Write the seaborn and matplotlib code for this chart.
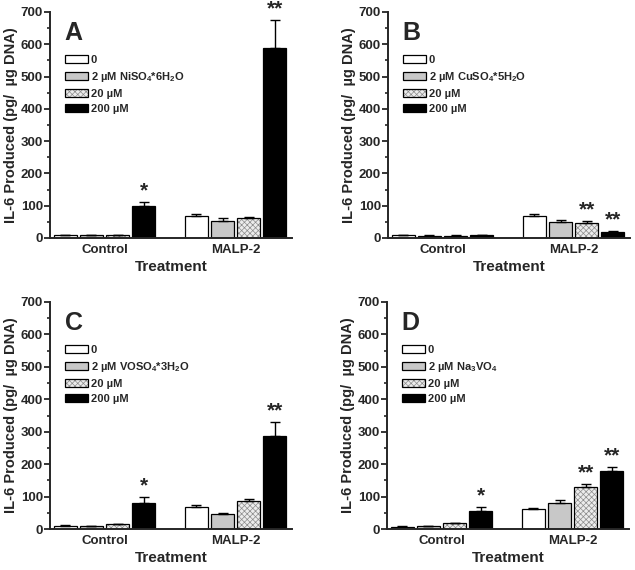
import numpy as np
import pandas as pd
import matplotlib
matplotlib.use("Agg")
import matplotlib.pyplot as plt
import seaborn as sns
from matplotlib.patches import Patch
from matplotlib.ticker import MultipleLocator

sns.set_theme(style="ticks")
plt.rcParams['font.family'] = ['Liberation Sans', 'DejaVu Sans']
plt.rcParams['font.weight'] = 'bold'
plt.rcParams['mathtext.fontset'] = 'custom'
plt.rcParams['mathtext.rm'] = 'Liberation Sans:bold'
plt.rcParams['mathtext.bf'] = 'Liberation Sans:bold'
plt.rcParams['mathtext.default'] = 'bf'
plt.rcParams['hatch.linewidth'] = 0.5

treatments = ["Control", "MALP-2"]
doses = ["0", "2", "20", "200"]
panel_letters = ["A", "B", "C", "D"]
compounds = [r"2 µM NiSO$_4$*6H$_2$O", r"2 µM CuSO$_4$*5H$_2$O",
             r"2 µM VOSO$_4$*3H$_2$O", r"2 µM Na$_3$VO$_4$"]

# values: [Control x4 doses, MALP-2 x4 doses]
vals_A = [8, 8, 8, 100, 68, 53, 63, 588]
err_A = [1, 1, 2, 12, 7, 8, 3, 87]
sig_A = ["", "", "", "*", "", "", "", "**"]

vals_B = [9, 7, 7, 8, 67, 50, 48, 19]
err_B = [1, 1, 1, 1, 8, 5, 4, 2]
sig_B = ["", "", "", "", "", "", "**", "**"]

vals_C = [10, 9, 14, 80, 68, 45, 87, 286]
err_C = [1, 1, 1, 18, 7, 5, 6, 45]
sig_C = ["", "", "", "*", "", "", "", "**"]

vals_D = [7, 9, 17, 57, 62, 80, 128, 180]
err_D = [1, 1, 2, 12, 2, 8, 10, 10]
sig_D = ["", "", "", "*", "", "", "**", "**"]

panels = [(vals_A, err_A, sig_A), (vals_B, err_B, sig_B),
          (vals_C, err_C, sig_C), (vals_D, err_D, sig_D)]

facecolors = ["white", "#c8c8c8", "#ececec", "black"]
hatches = [None, None, "xxxxxx", None]
hatch_gray = (0.55, 0.55, 0.55, 1.0)

fig = plt.figure(figsize=(6.35, 5.7), dpi=100)
W, H = 635, 570
boxes = [(50, 12, 292, 238), (388, 12, 630, 238),
         (50, 302, 292, 529), (387, 302, 629, 529)]

for i, (vals, errs, sigs) in enumerate(panels):
    x0, y0, x1, y1 = boxes[i]
    ax = fig.add_axes([x0 / W, 1 - y1 / H, (x1 - x0) / W, (y1 - y0) / H])
    df = pd.DataFrame({
        "Treatment": [t for t in treatments for _ in doses],
        "Dose": doses * 2,
        "IL6": vals,
    })
    sns.barplot(data=df, x="Treatment", y="IL6", hue="Dose", order=treatments,
                hue_order=doses, errorbar=None, width=0.8, gap=0.12,
                ax=ax, legend=False, edgecolor="black", linewidth=0.9)
    xs, ys, es, ss = [], [], [], []
    for h, cont in enumerate(ax.containers):
        for j, p in enumerate(cont.patches):
            p.set_facecolor(facecolors[h])
            p.set_edgecolor("black")
            if hatches[h]:
                p.set_hatch(hatches[h])
                p._hatch_color = hatch_gray
            idx = j * 4 + h
            xs.append(p.get_x() + p.get_width() / 2)
            ys.append(p.get_height())
            es.append(errs[idx])
            ss.append(sigs[idx])
    xs = np.array(xs); ys = np.array(ys); es = np.array(es)
    ax.errorbar(xs, ys, yerr=[np.zeros_like(es), es], fmt='none',
                ecolor='black', elinewidth=1.0, capsize=3.5, capthick=1.0)
    for x, y, e, s in zip(xs, ys, es, ss):
        if s:
            ax.text(x, y + e + 5, s, ha='center', va='bottom',
                    fontsize=15, fontweight='bold')
    ax.set_ylim(0, 700)
    ax.set_xlim(-0.416, 1.43)
    ax.set_yticks(np.arange(0, 701, 100))
    ax.yaxis.set_minor_locator(MultipleLocator(50))
    ax.tick_params(axis='y', which='major', labelsize=9.5, width=1.3,
                   length=4, pad=1)
    ax.tick_params(axis='y', which='minor', width=1.2, length=2.5)
    ax.tick_params(axis='x', labelsize=9.5, length=0, pad=4)
    for lab in ax.get_xticklabels() + ax.get_yticklabels():
        lab.set_fontweight('bold')
    sns.despine(ax=ax)
    ax.spines['left'].set_linewidth(1.4)
    ax.spines['bottom'].set_linewidth(1.4)
    ax.set_xlabel("Treatment", fontsize=11, fontweight='bold', labelpad=3)
    ax.set_ylabel("IL-6 Produced (pg/  µg DNA)", fontsize=10.5,
                  fontweight='bold', labelpad=2)
    ax.text(0.06, 0.96, panel_letters[i], transform=ax.transAxes,
            fontsize=18, fontweight='bold', ha='left', va='top')
    labels = ["0", compounds[i], "20 µM", "200 µM"]
    handles = []
    for k in range(4):
        hp = Patch(facecolor=facecolors[k], edgecolor='black',
                   hatch=hatches[k], linewidth=0.9)
        if hatches[k]:
            hp._hatch_color = hatch_gray
        handles.append(hp)
    leg = ax.legend(handles, labels, loc='upper left',
                    bbox_to_anchor=(0.045, 0.83),
                    frameon=False, handlelength=2.0, handleheight=0.75,
                    handletextpad=0.3, labelspacing=0.45, borderaxespad=0,
                    prop={'weight': 'bold', 'size': 8})
    for lh in leg.legend_handles:
        if lh.get_hatch():
            lh._hatch_color = hatch_gray

fig.savefig("out.png", dpi=100)
